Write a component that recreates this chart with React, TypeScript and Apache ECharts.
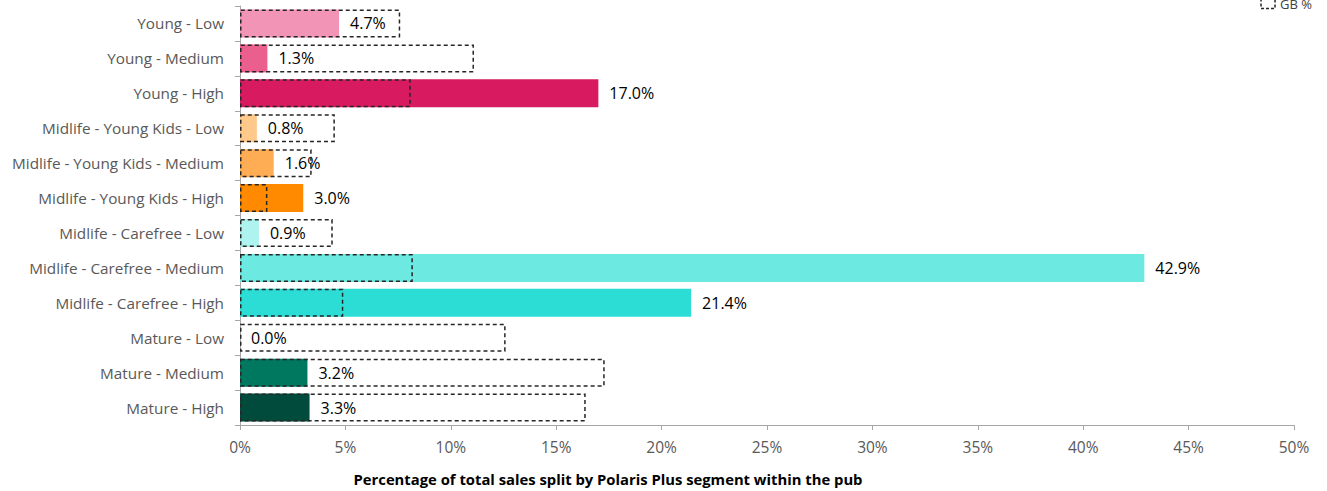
import React, { useEffect, useRef } from "react";
import * as echarts from "echarts";

const categories = [
  "Young - Low",
  "Young - Medium",
  "Young - High",
  "Midlife - Young Kids - Low",
  "Midlife - Young Kids - Medium",
  "Midlife - Young Kids - High",
  "Midlife - Carefree - Low",
  "Midlife - Carefree - Medium",
  "Midlife - Carefree - High",
  "Mature - Low",
  "Mature - Medium",
  "Mature - High",
];
const pubValues = [4.7, 1.3, 17.0, 0.8, 1.6, 3.0, 0.9, 42.9, 21.4, 0.0, 3.2, 3.3];
const gbValues = [7.6, 11.1, 8.1, 4.5, 3.4, 1.3, 4.4, 8.2, 4.9, 12.6, 17.3, 16.4];
const barColors = [
  "#F294B6", "#EB5F8E", "#D81B60",
  "#FFC98C", "#FFAD55", "#FF8A00",
  "#AEF3EF", "#6CE9E1", "#2BDDD4",
  "#FFFFFF", "#00775F", "#004B3C",
];
const xTicks = [0, 5, 10, 15, 20, 25, 30, 35, 40, 45, 50];

const FONT = "'Open Sans', sans-serif";

export default function App() {
  const ref = useRef<HTMLDivElement>(null);
  useEffect(() => {
    document.body.style.margin = "0";
    if (!ref.current) return;
    const chart = echarts.init(ref.current, undefined, { renderer: "svg" });
    chart.setOption({
      animation: false,
      textStyle: { fontFamily: FONT },
      legend: {
        data: [
          {
            name: "GB %",
            icon: "rect",
            itemStyle: {
              color: "rgba(0,0,0,0)",
              borderColor: "#262626",
              borderWidth: 1.5,
              borderType: [3, 2],
            },
          },
        ],
        right: 10,
        top: -8,
        itemWidth: 14,
        itemHeight: 10,
        itemGap: 4,
        textStyle: { fontSize: 13, color: "#404040", fontFamily: FONT },
      },
      grid: { left: 240, right: 33, top: 6, bottom: 63, containLabel: false },
      xAxis: {
        type: "value",
        min: xTicks[0],
        max: xTicks[xTicks.length - 1],
        interval: 5,
        splitLine: { show: false },
        axisLine: { show: true, lineStyle: { color: "#A6A6A6" } },
        axisTick: { show: true, length: 5, lineStyle: { color: "#A6A6A6" } },
        axisLabel: {
          formatter: (v: number) => v + "%",
          fontSize: 15.5,
          color: "#595959",
          margin: 14,
          fontFamily: FONT,
        },
        name: "Percentage of total sales split by Polaris Plus segment within the pub",
        nameLocation: "middle",
        nameGap: 46,
        nameTextStyle: {
          fontSize: 14.8,
          fontWeight: "bold",
          color: "#000",
          fontFamily: FONT,
          padding: [0, 318, 0, 0],
        },
      },
      yAxis: {
        type: "category",
        data: categories,
        inverse: true,
        axisLine: { show: true, lineStyle: { color: "#A6A6A6" } },
        axisTick: { show: true, length: 5, lineStyle: { color: "#A6A6A6" } },
        axisLabel: { fontSize: 15.3, color: "#595959", margin: 16, fontFamily: FONT },
      },
      series: [
        {
          name: "Pub %",
          type: "bar",
          barWidth: 28,
          data: pubValues.map((v, i) => ({ value: v, itemStyle: { color: barColors[i] } })),
          label: {
            show: true,
            position: "right",
            distance: 11,
            formatter: (p: any) => p.value.toFixed(1) + "%",
            fontSize: 16,
            color: "#000",
            fontFamily: FONT,
          },
          z: 2,
        },
        {
          name: "GB %",
          type: "bar",
          barWidth: 28,
          barGap: "-100%",
          data: gbValues,
          itemStyle: {
            color: "rgba(0,0,0,0)",
            borderColor: "#262626",
            borderWidth: 1.5,
            borderType: [4, 3],
          },
          z: 3,
        },
      ],
    });
    return () => chart.dispose();
  }, []);
  return <div ref={ref} style={{ width: 1327, height: 491 }} />;
}
